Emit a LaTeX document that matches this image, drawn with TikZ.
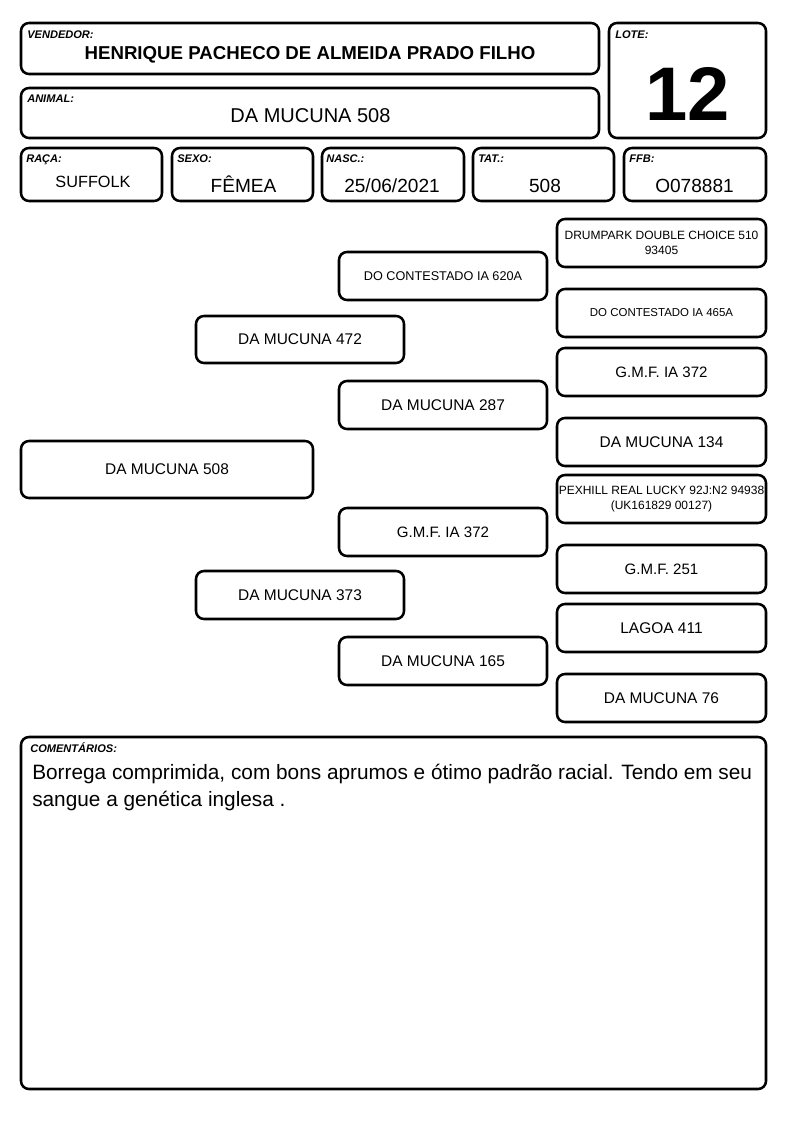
\documentclass[tikz,border=0pt]{standalone}
\usepackage{fontspec}
\setmainfont{Liberation Sans}
\tikzset{
 box/.style={draw, line width=1.9pt, rounded corners=6pt, inner sep=0pt, outer sep=0pt},
 lbl/.style={font=\bfseries\itshape\fontsize{8.3}{9}\selectfont, anchor=base west, inner sep=0pt},
 ped/.style={font=\fontsize{11.6}{13}\selectfont, inner sep=0pt},
 pedsmall/.style={font=\fontsize{9}{11.25}\selectfont, align=center, inner sep=0pt},
 val/.style={font=\fontsize{14.3}{16}\selectfont, anchor=base, inner sep=0pt},
}
\newcommand\rbox[5]{\node[box, minimum width={(#4-#2)*0.75pt}, minimum height={(#5-#3)*0.75pt}] (#1) at ({(#2+#4)/2},{(#3+#5)/2}) {};}
\begin{document}
\begin{tikzpicture}[x=0.75pt,y=-0.75pt]
\fill[white] (0,0) rectangle (794,1123);
\useasboundingbox (0,0) rectangle (794,1123);
% header boxes
\rbox{vend}{21}{23}{599}{74}
\rbox{lote}{609}{23}{766}{138}
\rbox{anim}{21}{88}{599}{138}
\rbox{raca}{21}{148}{162}{201}
\rbox{sexo}{172}{148}{313}{201}
\rbox{nasc}{322}{148}{464}{201}
\rbox{tat}{473}{148}{614}{201}
\rbox{ffb}{624}{148}{766}{201}
% labels
\node[lbl] (lvend) at (27,39) {VENDEDOR:};
\node[lbl] (lanim) at (27,103) {ANIMAL:};
\node[lbl] (llote) at (615,39) {LOTE:};
\node[lbl] (lraca) at (26,163) {RAÇA:};
\node[lbl] (lsexo) at (177,163) {SEXO:};
\node[lbl] (lnasc) at (326,163) {NASC.:};
\node[lbl] (ltat) at (478,163) {TAT.:};
\node[lbl] (lffb) at (629,163) {FFB:};
% values
\node[anchor=base, inner sep=0pt, font=\bfseries\fontsize{14}{16}\selectfont] (tvend) at (310,60) {HENRIQUE PACHECO DE ALMEIDA PRADO FILHO};
\node[anchor=base, inner sep=0pt, font=\fontsize{15}{17}\selectfont] (tanim) at (310.5,123) {DA MUCUNA 508};
\node[anchor=base, inner sep=0pt, font=\bfseries\fontsize{57}{60}\selectfont] (tlote) at (687.5,121) {12};
\node[val, font=\fontsize{12.2}{14}\selectfont] (traca) at (93,188) {SUFFOLK};
\node[val] (tsexo) at (243.5,193) {FÊMEA};
\node[val] (tnasc) at (392,193) {25/06/2021};
\node[val] (ttat) at (545,193) {508};
\node[val] (tffb) at (694.5,193) {O078881};
% pedigree boxes
\rbox{p0}{21}{441}{313}{498}
\rbox{p1}{196}{316}{404}{363}
\rbox{p2}{196}{571}{404}{619}
\rbox{p11}{339}{252}{547}{300}
\rbox{p12}{339}{381}{547}{429}
\rbox{p21}{339}{508}{547}{556}
\rbox{p22}{339}{637}{547}{685}
\rbox{g1}{557}{219}{766}{267}
\rbox{g2}{557}{289}{766}{337}
\rbox{g3}{557}{348}{766}{396}
\rbox{g4}{557}{418}{766}{466}
\rbox{g5}{557}{475}{766}{523}
\rbox{g6}{557}{545}{766}{593}
\rbox{g7}{557}{604}{766}{652}
\rbox{g8}{557}{674}{766}{722}
% pedigree texts
\node[ped] at (p0) {DA MUCUNA 508};
\node[ped] at (p1) {DA MUCUNA 472};
\node[ped] at (p2) {DA MUCUNA 373};
\node[pedsmall, font=\fontsize{9.5}{11.5}\selectfont] at (p11) {DO CONTESTADO IA 620A};
\node[ped] at (p12) {DA MUCUNA 287};
\node[ped, font=\fontsize{11.3}{13}\selectfont] at (p21) {G.M.F. IA 372};
\node[ped] at (p22) {DA MUCUNA 165};
\node[pedsmall] at (g1) {DRUMPARK DOUBLE CHOICE 510\\93405};
\node[pedsmall, font=\fontsize{8.6}{11}\selectfont] at (g2) {DO CONTESTADO IA 465A};
\node[ped, font=\fontsize{11.3}{13}\selectfont] at (g3) {G.M.F. IA 372};
\node[ped] at (g4) {DA MUCUNA 134};
\node[pedsmall] at (g5) {PEXHILL REAL LUCKY 92J:N2 94938\\(UK161829 00127)};
\node[ped, font=\fontsize{11.3}{13}\selectfont] at (g6) {G.M.F. 251};
\node[ped] at (g7) {LAGOA 411};
\node[ped] at (g8) {DA MUCUNA 76};
% comments
\rbox{com}{21}{737}{766}{1089}
\node[lbl] (lcom) at (30,752) {COMENTÁRIOS:};
\node[anchor=north west, inner sep=0pt, align=left, font=\fontsize{15.6}{20.25}\selectfont] (tcom) at (32,764) {Borrega comprimida, com bons aprumos e ótimo padrão racial. Tendo em seu\\sangue a genética inglesa .};
\end{tikzpicture}
\end{document}
